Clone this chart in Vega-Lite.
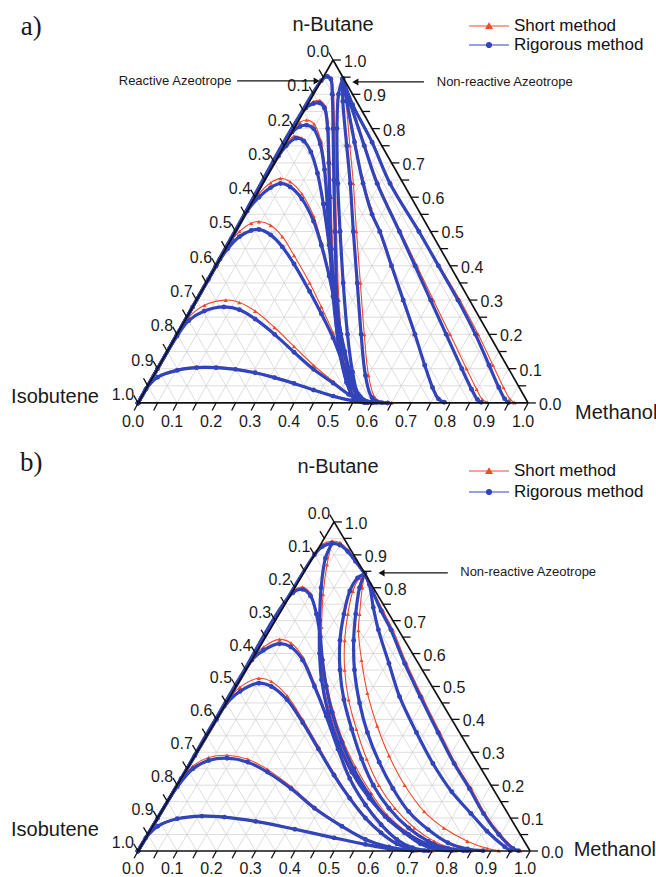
{
"$schema": "https://vega.github.io/schema/vega-lite/v6.json",
"padding": 0,
"spacing": 0,
"background": "white",
"config": {"view": {"stroke": null}, "font": "Liberation Sans"},
"resolve": {"scale": {"x": "independent", "y": "independent", "color": "independent"}, "legend": {"color": "independent"}},
"datasets": {
"grid": [
{"x":0.025,"y":0.05,"x2":0.975,"y2":0.05},{"x":0.05,"y":0.1,"x2":0.95,"y2":0.1},{"x":0.075,"y":0.15,"x2":0.925,"y2":0.15},{"x":0.1,"y":0.2,"x2":0.9,"y2":0.2},{"x":0.125,"y":0.25,"x2":0.875,"y2":0.25},{"x":0.15,"y":0.3,"x2":0.85,"y2":0.3},{"x":0.175,"y":0.35,"x2":0.825,"y2":0.35},{"x":0.2,"y":0.4,"x2":0.8,"y2":0.4},{"x":0.225,"y":0.45,"x2":0.775,"y2":0.45},{"x":0.25,"y":0.5,"x2":0.75,"y2":0.5},{"x":0.275,"y":0.55,"x2":0.725,"y2":0.55},{"x":0.3,"y":0.6,"x2":0.7,"y2":0.6},{"x":0.325,"y":0.65,"x2":0.675,"y2":0.65},{"x":0.35,"y":0.7,"x2":0.65,"y2":0.7},{"x":0.375,"y":0.75,"x2":0.625,"y2":0.75},{"x":0.4,"y":0.8,"x2":0.6,"y2":0.8},{"x":0.425,"y":0.85,"x2":0.575,"y2":0.85},{"x":0.45,"y":0.9,"x2":0.55,"y2":0.9},{"x":0.475,"y":0.95,"x2":0.525,"y2":0.95},
{"x":0.05,"y":0,"x2":0.525,"y2":0.95},{"x":0.1,"y":0,"x2":0.55,"y2":0.9},{"x":0.15,"y":0,"x2":0.575,"y2":0.85},{"x":0.2,"y":0,"x2":0.6,"y2":0.8},{"x":0.25,"y":0,"x2":0.625,"y2":0.75},{"x":0.3,"y":0,"x2":0.65,"y2":0.7},{"x":0.35,"y":0,"x2":0.675,"y2":0.65},{"x":0.4,"y":0,"x2":0.7,"y2":0.6},{"x":0.45,"y":0,"x2":0.725,"y2":0.55},{"x":0.5,"y":0,"x2":0.75,"y2":0.5},{"x":0.55,"y":0,"x2":0.775,"y2":0.45},{"x":0.6,"y":0,"x2":0.8,"y2":0.4},{"x":0.65,"y":0,"x2":0.825,"y2":0.35},{"x":0.7,"y":0,"x2":0.85,"y2":0.3},{"x":0.75,"y":0,"x2":0.875,"y2":0.25},{"x":0.8,"y":0,"x2":0.9,"y2":0.2},{"x":0.85,"y":0,"x2":0.925,"y2":0.15},{"x":0.9,"y":0,"x2":0.95,"y2":0.1},{"x":0.95,"y":0,"x2":0.975,"y2":0.05},
{"x":0.05,"y":0,"x2":0.025,"y2":0.05},{"x":0.1,"y":0,"x2":0.05,"y2":0.1},{"x":0.15,"y":0,"x2":0.075,"y2":0.15},{"x":0.2,"y":0,"x2":0.1,"y2":0.2},{"x":0.25,"y":0,"x2":0.125,"y2":0.25},{"x":0.3,"y":0,"x2":0.15,"y2":0.3},{"x":0.35,"y":0,"x2":0.175,"y2":0.35},{"x":0.4,"y":0,"x2":0.2,"y2":0.4},{"x":0.45,"y":0,"x2":0.225,"y2":0.45},{"x":0.5,"y":0,"x2":0.25,"y2":0.5},{"x":0.55,"y":0,"x2":0.275,"y2":0.55},{"x":0.6,"y":0,"x2":0.3,"y2":0.6},{"x":0.65,"y":0,"x2":0.325,"y2":0.65},{"x":0.7,"y":0,"x2":0.35,"y2":0.7},{"x":0.75,"y":0,"x2":0.375,"y2":0.75},{"x":0.8,"y":0,"x2":0.4,"y2":0.8},{"x":0.85,"y":0,"x2":0.425,"y2":0.85},{"x":0.9,"y":0,"x2":0.45,"y2":0.9},{"x":0.95,"y":0,"x2":0.475,"y2":0.95}
],
"frame": [
{"x":0,"y":0,"x2":1,"y2":0},{"x":0,"y":0,"x2":0.5,"y2":1},{"x":1,"y":0,"x2":0.5,"y2":1}
],
"ticks": [
{"x":0,"y":0,"x2":-0.01,"y2":-0.022},{"x":0.05,"y":0,"x2":0.04,"y2":-0.022},{"x":0.1,"y":0,"x2":0.09,"y2":-0.022},{"x":0.15,"y":0,"x2":0.14,"y2":-0.022},{"x":0.2,"y":0,"x2":0.19,"y2":-0.022},{"x":0.25,"y":0,"x2":0.24,"y2":-0.022},{"x":0.3,"y":0,"x2":0.29,"y2":-0.022},{"x":0.35,"y":0,"x2":0.34,"y2":-0.022},{"x":0.4,"y":0,"x2":0.39,"y2":-0.022},{"x":0.45,"y":0,"x2":0.44,"y2":-0.022},{"x":0.5,"y":0,"x2":0.49,"y2":-0.022},{"x":0.55,"y":0,"x2":0.54,"y2":-0.022},{"x":0.6,"y":0,"x2":0.59,"y2":-0.022},{"x":0.65,"y":0,"x2":0.64,"y2":-0.022},{"x":0.7,"y":0,"x2":0.69,"y2":-0.022},{"x":0.75,"y":0,"x2":0.74,"y2":-0.022},{"x":0.8,"y":0,"x2":0.79,"y2":-0.022},{"x":0.85,"y":0,"x2":0.84,"y2":-0.022},{"x":0.9,"y":0,"x2":0.89,"y2":-0.022},{"x":0.95,"y":0,"x2":0.94,"y2":-0.022},{"x":1,"y":0,"x2":0.99,"y2":-0.022},
{"x":0,"y":0,"x2":-0.011,"y2":0.022},{"x":0.025,"y":0.05,"x2":0.014,"y2":0.072},{"x":0.05,"y":0.1,"x2":0.039,"y2":0.122},{"x":0.075,"y":0.15,"x2":0.064,"y2":0.172},{"x":0.1,"y":0.2,"x2":0.089,"y2":0.222},{"x":0.125,"y":0.25,"x2":0.114,"y2":0.272},{"x":0.15,"y":0.3,"x2":0.139,"y2":0.322},{"x":0.175,"y":0.35,"x2":0.164,"y2":0.372},{"x":0.2,"y":0.4,"x2":0.189,"y2":0.422},{"x":0.225,"y":0.45,"x2":0.214,"y2":0.472},{"x":0.25,"y":0.5,"x2":0.239,"y2":0.522},{"x":0.275,"y":0.55,"x2":0.264,"y2":0.572},{"x":0.3,"y":0.6,"x2":0.289,"y2":0.622},{"x":0.325,"y":0.65,"x2":0.314,"y2":0.672},{"x":0.35,"y":0.7,"x2":0.339,"y2":0.722},{"x":0.375,"y":0.75,"x2":0.364,"y2":0.772},{"x":0.4,"y":0.8,"x2":0.389,"y2":0.822},{"x":0.425,"y":0.85,"x2":0.414,"y2":0.872},{"x":0.45,"y":0.9,"x2":0.439,"y2":0.922},{"x":0.475,"y":0.95,"x2":0.464,"y2":0.972},{"x":0.5,"y":1,"x2":0.489,"y2":1.022},
{"x":1,"y":0,"x2":1.02,"y2":0},{"x":0.975,"y":0.05,"x2":0.995,"y2":0.05},{"x":0.95,"y":0.1,"x2":0.97,"y2":0.1},{"x":0.925,"y":0.15,"x2":0.945,"y2":0.15},{"x":0.9,"y":0.2,"x2":0.92,"y2":0.2},{"x":0.875,"y":0.25,"x2":0.895,"y2":0.25},{"x":0.85,"y":0.3,"x2":0.87,"y2":0.3},{"x":0.825,"y":0.35,"x2":0.845,"y2":0.35},{"x":0.8,"y":0.4,"x2":0.82,"y2":0.4},{"x":0.775,"y":0.45,"x2":0.795,"y2":0.45},{"x":0.75,"y":0.5,"x2":0.77,"y2":0.5},{"x":0.725,"y":0.55,"x2":0.745,"y2":0.55},{"x":0.7,"y":0.6,"x2":0.72,"y2":0.6},{"x":0.675,"y":0.65,"x2":0.695,"y2":0.65},{"x":0.65,"y":0.7,"x2":0.67,"y2":0.7},{"x":0.625,"y":0.75,"x2":0.645,"y2":0.75},{"x":0.6,"y":0.8,"x2":0.62,"y2":0.8},{"x":0.575,"y":0.85,"x2":0.595,"y2":0.85},{"x":0.55,"y":0.9,"x2":0.57,"y2":0.9},{"x":0.525,"y":0.95,"x2":0.545,"y2":0.95},{"x":0.5,"y":1,"x2":0.52,"y2":1}
],
"labels": [
{"a":"b","t":"0.0","x":0,"y":0},{"a":"b","t":"0.1","x":0.1,"y":0},{"a":"b","t":"0.2","x":0.2,"y":0},{"a":"b","t":"0.3","x":0.3,"y":0},{"a":"b","t":"0.4","x":0.4,"y":0},{"a":"b","t":"0.5","x":0.5,"y":0},{"a":"b","t":"0.6","x":0.6,"y":0},{"a":"b","t":"0.7","x":0.7,"y":0},{"a":"b","t":"0.8","x":0.8,"y":0},{"a":"b","t":"0.9","x":0.9,"y":0},{"a":"b","t":"1.0","x":1,"y":0},
{"a":"l","t":"0.0","x":0.5,"y":1},{"a":"l","t":"0.1","x":0.45,"y":0.9},{"a":"l","t":"0.2","x":0.4,"y":0.8},{"a":"l","t":"0.3","x":0.35,"y":0.7},{"a":"l","t":"0.4","x":0.3,"y":0.6},{"a":"l","t":"0.5","x":0.25,"y":0.5},{"a":"l","t":"0.6","x":0.2,"y":0.4},{"a":"l","t":"0.7","x":0.15,"y":0.3},{"a":"l","t":"0.8","x":0.1,"y":0.2},{"a":"l","t":"0.9","x":0.05,"y":0.1},{"a":"l","t":"1.0","x":0,"y":0},
{"a":"r","t":"0.0","x":1,"y":0},{"a":"r","t":"0.1","x":0.95,"y":0.1},{"a":"r","t":"0.2","x":0.9,"y":0.2},{"a":"r","t":"0.3","x":0.85,"y":0.3},{"a":"r","t":"0.4","x":0.8,"y":0.4},{"a":"r","t":"0.5","x":0.75,"y":0.5},{"a":"r","t":"0.6","x":0.7,"y":0.6},{"a":"r","t":"0.7","x":0.65,"y":0.7},{"a":"r","t":"0.8","x":0.6,"y":0.8},{"a":"r","t":"0.9","x":0.55,"y":0.9},{"a":"r","t":"1.0","x":0.5,"y":1}
],
"textsA": [
{"k":"title","t":"n-Butane","x":0.5,"y":1.102},{"k":"title","t":"Isobutene","x":-0.213,"y":0.017},{"k":"title","t":"Methanol","x":1.226,"y":-0.029},{"k":"panel","t":"a)","x":-0.274,"y":1.096},{"k":"note","t":"Reactive Azeotrope","x":0.095,"y":0.939},{"k":"note","t":"Non-reactive Azeotrope","x":0.94,"y":0.936}
],
"arrowsA": [{"x":0.254,"y":0.939,"x2":0.455,"y2":0.939},{"x":0.733,"y":0.936,"x2":0.56,"y2":0.936}],
"headsA": [{"d":"r","x":0.458,"y":0.939},{"d":"l","x":0.557,"y":0.936}],
"textsB": [
{"k":"title","t":"n-Butane","x":0.51,"y":1.167},{"k":"title","t":"Isobutene","x":-0.212,"y":0.064},{"k":"title","t":"Methanol","x":1.216,"y":0.003},{"k":"panel","t":"b)","x":-0.272,"y":1.179},{"k":"note","t":"Non-reactive Azeotrope","x":0.995,"y":0.848}
],
"arrowsB": [{"x":0.79,"y":0.845,"x2":0.625,"y2":0.845}],
"headsB": [{"d":"l","x":0.621,"y":0.845}],
"curvesA": [
{"c":"A1","m":"S","x":0,"y":0},{"c":"A1","m":"S","x":0.02,"y":0.04},{"c":"A1","m":"S","x":0.05,"y":0.077},{"c":"A1","m":"S","x":0.1,"y":0.098},{"c":"A1","m":"S","x":0.15,"y":0.106},{"c":"A1","m":"S","x":0.2,"y":0.106},{"c":"A1","m":"S","x":0.25,"y":0.1},{"c":"A1","m":"S","x":0.3,"y":0.09},{"c":"A1","m":"S","x":0.35,"y":0.076},{"c":"A1","m":"S","x":0.4,"y":0.058},{"c":"A1","m":"S","x":0.45,"y":0.039},{"c":"A1","m":"S","x":0.5,"y":0.021},{"c":"A1","m":"S","x":0.55,"y":0.008},{"c":"A1","m":"S","x":0.6,"y":0.001},{"c":"A1","m":"S","x":0.65,"y":0},
{"c":"A2","m":"S","x":0,"y":0},{"c":"A2","m":"S","x":0.05,"y":0.1},{"c":"A2","m":"S","x":0.1,"y":0.2},{"c":"A2","m":"S","x":0.13,"y":0.25},{"c":"A2","m":"S","x":0.17,"y":0.285},{"c":"A2","m":"S","x":0.225,"y":0.3},{"c":"A2","m":"S","x":0.26,"y":0.293},{"c":"A2","m":"S","x":0.3,"y":0.268},{"c":"A2","m":"S","x":0.35,"y":0.22},{"c":"A2","m":"S","x":0.4,"y":0.165},{"c":"A2","m":"S","x":0.45,"y":0.11},{"c":"A2","m":"S","x":0.5,"y":0.063},{"c":"A2","m":"S","x":0.54,"y":0.028},{"c":"A2","m":"S","x":0.57,"y":0.009},{"c":"A2","m":"S","x":0.61,"y":0.001},
{"c":"A3","m":"S","x":0,"y":0},{"c":"A3","m":"S","x":0.1,"y":0.2},{"c":"A3","m":"S","x":0.2,"y":0.4},{"c":"A3","m":"S","x":0.23,"y":0.46},{"c":"A3","m":"S","x":0.26,"y":0.5},{"c":"A3","m":"S","x":0.29,"y":0.524},{"c":"A3","m":"S","x":0.31,"y":0.529},{"c":"A3","m":"S","x":0.34,"y":0.518},{"c":"A3","m":"S","x":0.37,"y":0.485},{"c":"A3","m":"S","x":0.4,"y":0.43},{"c":"A3","m":"S","x":0.44,"y":0.35},{"c":"A3","m":"S","x":0.47,"y":0.28},{"c":"A3","m":"S","x":0.5,"y":0.205},{"c":"A3","m":"S","x":0.53,"y":0.11},{"c":"A3","m":"S","x":0.55,"y":0.05},{"c":"A3","m":"S","x":0.57,"y":0.014},{"c":"A3","m":"S","x":0.6,"y":0.001},
{"c":"A4","m":"S","x":0,"y":0},{"c":"A4","m":"S","x":0.14,"y":0.28},{"c":"A4","m":"S","x":0.28,"y":0.56},{"c":"A4","m":"S","x":0.31,"y":0.61},{"c":"A4","m":"S","x":0.34,"y":0.642},{"c":"A4","m":"S","x":0.365,"y":0.655},{"c":"A4","m":"S","x":0.39,"y":0.645},{"c":"A4","m":"S","x":0.42,"y":0.61},{"c":"A4","m":"S","x":0.45,"y":0.545},{"c":"A4","m":"S","x":0.47,"y":0.47},{"c":"A4","m":"S","x":0.49,"y":0.38},{"c":"A4","m":"S","x":0.51,"y":0.265},{"c":"A4","m":"S","x":0.53,"y":0.155},{"c":"A4","m":"S","x":0.55,"y":0.068},{"c":"A4","m":"S","x":0.57,"y":0.02},{"c":"A4","m":"S","x":0.6,"y":0.002},
{"c":"A5","m":"S","x":0,"y":0},{"c":"A5","m":"S","x":0.18,"y":0.36},{"c":"A5","m":"S","x":0.36,"y":0.72},{"c":"A5","m":"S","x":0.38,"y":0.755},{"c":"A5","m":"S","x":0.4,"y":0.778},{"c":"A5","m":"S","x":0.42,"y":0.772},{"c":"A5","m":"S","x":0.44,"y":0.742},{"c":"A5","m":"S","x":0.46,"y":0.675},{"c":"A5","m":"S","x":0.475,"y":0.585},{"c":"A5","m":"S","x":0.49,"y":0.465},{"c":"A5","m":"S","x":0.505,"y":0.335},{"c":"A5","m":"S","x":0.52,"y":0.2},{"c":"A5","m":"S","x":0.54,"y":0.09},{"c":"A5","m":"S","x":0.56,"y":0.025},{"c":"A5","m":"S","x":0.59,"y":0.002},
{"c":"A6","m":"S","x":0,"y":0},{"c":"A6","m":"S","x":0.2,"y":0.4},{"c":"A6","m":"S","x":0.395,"y":0.79},{"c":"A6","m":"S","x":0.415,"y":0.818},{"c":"A6","m":"S","x":0.432,"y":0.825},{"c":"A6","m":"S","x":0.451,"y":0.814},{"c":"A6","m":"S","x":0.469,"y":0.765},{"c":"A6","m":"S","x":0.48,"y":0.685},{"c":"A6","m":"S","x":0.488,"y":0.58},{"c":"A6","m":"S","x":0.495,"y":0.45},{"c":"A6","m":"S","x":0.503,"y":0.31},{"c":"A6","m":"S","x":0.518,"y":0.17},{"c":"A6","m":"S","x":0.538,"y":0.07},{"c":"A6","m":"S","x":0.558,"y":0.015},{"c":"A6","m":"S","x":0.588,"y":0.001},
{"c":"A7","m":"S","x":0,"y":0},{"c":"A7","m":"S","x":0.21,"y":0.42},{"c":"A7","m":"S","x":0.43,"y":0.86},{"c":"A7","m":"S","x":0.45,"y":0.879},{"c":"A7","m":"S","x":0.466,"y":0.882},{"c":"A7","m":"S","x":0.48,"y":0.865},{"c":"A7","m":"S","x":0.489,"y":0.8},{"c":"A7","m":"S","x":0.492,"y":0.7},{"c":"A7","m":"S","x":0.495,"y":0.6},{"c":"A7","m":"S","x":0.499,"y":0.45},{"c":"A7","m":"S","x":0.507,"y":0.3},{"c":"A7","m":"S","x":0.519,"y":0.16},{"c":"A7","m":"S","x":0.539,"y":0.06},{"c":"A7","m":"S","x":0.559,"y":0.012},{"c":"A7","m":"S","x":0.585,"y":0.001},
{"c":"A8","m":"S","x":0,"y":0},{"c":"A8","m":"S","x":0.24,"y":0.48},{"c":"A8","m":"S","x":0.47,"y":0.94},{"c":"A8","m":"S","x":0.486,"y":0.955},{"c":"A8","m":"S","x":0.496,"y":0.947},{"c":"A8","m":"S","x":0.501,"y":0.9},{"c":"A8","m":"S","x":0.504,"y":0.8},{"c":"A8","m":"S","x":0.506,"y":0.65},{"c":"A8","m":"S","x":0.509,"y":0.5},{"c":"A8","m":"S","x":0.515,"y":0.3},{"c":"A8","m":"S","x":0.525,"y":0.15},{"c":"A8","m":"S","x":0.54,"y":0.06},{"c":"A8","m":"S","x":0.56,"y":0.012},{"c":"A8","m":"S","x":0.585,"y":0.001},
{"c":"R2","m":"S","x":0.525,"y":0.945},{"c":"R2","m":"S","x":0.533,"y":0.88},{"c":"R2","m":"S","x":0.543,"y":0.75},{"c":"R2","m":"S","x":0.552,"y":0.64},{"c":"R2","m":"S","x":0.56,"y":0.5},{"c":"R2","m":"S","x":0.57,"y":0.35},{"c":"R2","m":"S","x":0.58,"y":0.2},{"c":"R2","m":"S","x":0.591,"y":0.08},{"c":"R2","m":"S","x":0.608,"y":0.015},{"c":"R2","m":"S","x":0.633,"y":0.001},
{"c":"R3","m":"S","x":0.525,"y":0.945},{"c":"R3","m":"S","x":0.537,"y":0.88},{"c":"R3","m":"S","x":0.555,"y":0.77},{"c":"R3","m":"S","x":0.575,"y":0.66},{"c":"R3","m":"S","x":0.597,"y":0.57},{"c":"R3","m":"S","x":0.618,"y":0.5},{"c":"R3","m":"S","x":0.648,"y":0.4},{"c":"R3","m":"S","x":0.678,"y":0.3},{"c":"R3","m":"S","x":0.708,"y":0.2},{"c":"R3","m":"S","x":0.735,"y":0.11},{"c":"R3","m":"S","x":0.757,"y":0.045},{"c":"R3","m":"S","x":0.773,"y":0.012},{"c":"R3","m":"S","x":0.79,"y":0.002},
{"c":"R4","m":"S","x":0.525,"y":0.945},{"c":"R4","m":"S","x":0.547,"y":0.87},{"c":"R4","m":"S","x":0.582,"y":0.75},{"c":"R4","m":"S","x":0.616,"y":0.64},{"c":"R4","m":"S","x":0.673,"y":0.5},{"c":"R4","m":"S","x":0.715,"y":0.4},{"c":"R4","m":"S","x":0.757,"y":0.3},{"c":"R4","m":"S","x":0.8,"y":0.2},{"c":"R4","m":"S","x":0.842,"y":0.1},{"c":"R4","m":"S","x":0.868,"y":0.04},{"c":"R4","m":"S","x":0.883,"y":0.01},{"c":"R4","m":"S","x":0.895,"y":0.002},
{"c":"R5","m":"S","x":0.525,"y":0.945},{"c":"R5","m":"S","x":0.552,"y":0.87},{"c":"R5","m":"S","x":0.602,"y":0.76},{"c":"R5","m":"S","x":0.648,"y":0.64},{"c":"R5","m":"S","x":0.722,"y":0.5},{"c":"R5","m":"S","x":0.773,"y":0.4},{"c":"R5","m":"S","x":0.825,"y":0.3},{"c":"R5","m":"S","x":0.872,"y":0.2},{"c":"R5","m":"S","x":0.91,"y":0.11},{"c":"R5","m":"S","x":0.937,"y":0.045},{"c":"R5","m":"S","x":0.953,"y":0.012},{"c":"R5","m":"S","x":0.965,"y":0.001},
{"c":"A1","m":"R","x":0,"y":0},{"c":"A1","m":"R","x":0.02,"y":0.04},{"c":"A1","m":"R","x":0.05,"y":0.075},{"c":"A1","m":"R","x":0.1,"y":0.095},{"c":"A1","m":"R","x":0.15,"y":0.103},{"c":"A1","m":"R","x":0.2,"y":0.103},{"c":"A1","m":"R","x":0.25,"y":0.098},{"c":"A1","m":"R","x":0.3,"y":0.088},{"c":"A1","m":"R","x":0.35,"y":0.074},{"c":"A1","m":"R","x":0.4,"y":0.057},{"c":"A1","m":"R","x":0.45,"y":0.038},{"c":"A1","m":"R","x":0.5,"y":0.02},{"c":"A1","m":"R","x":0.55,"y":0.007},{"c":"A1","m":"R","x":0.6,"y":0.001},{"c":"A1","m":"R","x":0.64,"y":0},
{"c":"A2","m":"R","x":0,"y":0},{"c":"A2","m":"R","x":0.05,"y":0.1},{"c":"A2","m":"R","x":0.1,"y":0.195},{"c":"A2","m":"R","x":0.13,"y":0.24},{"c":"A2","m":"R","x":0.17,"y":0.268},{"c":"A2","m":"R","x":0.22,"y":0.28},{"c":"A2","m":"R","x":0.26,"y":0.272},{"c":"A2","m":"R","x":0.3,"y":0.245},{"c":"A2","m":"R","x":0.35,"y":0.2},{"c":"A2","m":"R","x":0.4,"y":0.148},{"c":"A2","m":"R","x":0.45,"y":0.098},{"c":"A2","m":"R","x":0.5,"y":0.058},{"c":"A2","m":"R","x":0.54,"y":0.025},{"c":"A2","m":"R","x":0.57,"y":0.008},{"c":"A2","m":"R","x":0.6,"y":0.001},
{"c":"A3","m":"R","x":0,"y":0},{"c":"A3","m":"R","x":0.1,"y":0.2},{"c":"A3","m":"R","x":0.2,"y":0.4},{"c":"A3","m":"R","x":0.23,"y":0.45},{"c":"A3","m":"R","x":0.26,"y":0.485},{"c":"A3","m":"R","x":0.29,"y":0.503},{"c":"A3","m":"R","x":0.31,"y":0.506},{"c":"A3","m":"R","x":0.34,"y":0.49},{"c":"A3","m":"R","x":0.37,"y":0.455},{"c":"A3","m":"R","x":0.4,"y":0.405},{"c":"A3","m":"R","x":0.44,"y":0.325},{"c":"A3","m":"R","x":0.47,"y":0.26},{"c":"A3","m":"R","x":0.5,"y":0.19},{"c":"A3","m":"R","x":0.53,"y":0.1},{"c":"A3","m":"R","x":0.55,"y":0.045},{"c":"A3","m":"R","x":0.57,"y":0.012},{"c":"A3","m":"R","x":0.6,"y":0.001},
{"c":"A4","m":"R","x":0,"y":0},{"c":"A4","m":"R","x":0.14,"y":0.28},{"c":"A4","m":"R","x":0.28,"y":0.56},{"c":"A4","m":"R","x":0.31,"y":0.6},{"c":"A4","m":"R","x":0.34,"y":0.628},{"c":"A4","m":"R","x":0.365,"y":0.64},{"c":"A4","m":"R","x":0.39,"y":0.63},{"c":"A4","m":"R","x":0.42,"y":0.595},{"c":"A4","m":"R","x":0.45,"y":0.53},{"c":"A4","m":"R","x":0.47,"y":0.46},{"c":"A4","m":"R","x":0.49,"y":0.37},{"c":"A4","m":"R","x":0.51,"y":0.26},{"c":"A4","m":"R","x":0.53,"y":0.15},{"c":"A4","m":"R","x":0.55,"y":0.065},{"c":"A4","m":"R","x":0.57,"y":0.018},{"c":"A4","m":"R","x":0.6,"y":0.002},
{"c":"A5","m":"R","x":0,"y":0},{"c":"A5","m":"R","x":0.18,"y":0.36},{"c":"A5","m":"R","x":0.36,"y":0.72},{"c":"A5","m":"R","x":0.38,"y":0.75},{"c":"A5","m":"R","x":0.405,"y":0.772},{"c":"A5","m":"R","x":0.425,"y":0.764},{"c":"A5","m":"R","x":0.443,"y":0.732},{"c":"A5","m":"R","x":0.46,"y":0.67},{"c":"A5","m":"R","x":0.475,"y":0.58},{"c":"A5","m":"R","x":0.49,"y":0.46},{"c":"A5","m":"R","x":0.505,"y":0.33},{"c":"A5","m":"R","x":0.52,"y":0.2},{"c":"A5","m":"R","x":0.54,"y":0.09},{"c":"A5","m":"R","x":0.56,"y":0.025},{"c":"A5","m":"R","x":0.59,"y":0.002},
{"c":"A6","m":"R","x":0,"y":0},{"c":"A6","m":"R","x":0.2,"y":0.4},{"c":"A6","m":"R","x":0.395,"y":0.79},{"c":"A6","m":"R","x":0.415,"y":0.806},{"c":"A6","m":"R","x":0.432,"y":0.81},{"c":"A6","m":"R","x":0.45,"y":0.8},{"c":"A6","m":"R","x":0.467,"y":0.755},{"c":"A6","m":"R","x":0.478,"y":0.68},{"c":"A6","m":"R","x":0.485,"y":0.58},{"c":"A6","m":"R","x":0.492,"y":0.45},{"c":"A6","m":"R","x":0.5,"y":0.31},{"c":"A6","m":"R","x":0.515,"y":0.17},{"c":"A6","m":"R","x":0.535,"y":0.07},{"c":"A6","m":"R","x":0.555,"y":0.015},{"c":"A6","m":"R","x":0.585,"y":0.001},
{"c":"A7","m":"R","x":0,"y":0},{"c":"A7","m":"R","x":0.21,"y":0.42},{"c":"A7","m":"R","x":0.43,"y":0.86},{"c":"A7","m":"R","x":0.45,"y":0.873},{"c":"A7","m":"R","x":0.465,"y":0.875},{"c":"A7","m":"R","x":0.478,"y":0.86},{"c":"A7","m":"R","x":0.486,"y":0.8},{"c":"A7","m":"R","x":0.489,"y":0.7},{"c":"A7","m":"R","x":0.491,"y":0.6},{"c":"A7","m":"R","x":0.495,"y":0.45},{"c":"A7","m":"R","x":0.503,"y":0.3},{"c":"A7","m":"R","x":0.515,"y":0.16},{"c":"A7","m":"R","x":0.535,"y":0.06},{"c":"A7","m":"R","x":0.555,"y":0.012},{"c":"A7","m":"R","x":0.58,"y":0.001},
{"c":"A8","m":"R","x":0,"y":0},{"c":"A8","m":"R","x":0.24,"y":0.48},{"c":"A8","m":"R","x":0.47,"y":0.94},{"c":"A8","m":"R","x":0.485,"y":0.952},{"c":"A8","m":"R","x":0.494,"y":0.945},{"c":"A8","m":"R","x":0.498,"y":0.9},{"c":"A8","m":"R","x":0.5,"y":0.8},{"c":"A8","m":"R","x":0.502,"y":0.65},{"c":"A8","m":"R","x":0.505,"y":0.5},{"c":"A8","m":"R","x":0.51,"y":0.3},{"c":"A8","m":"R","x":0.52,"y":0.15},{"c":"A8","m":"R","x":0.535,"y":0.06},{"c":"A8","m":"R","x":0.555,"y":0.012},{"c":"A8","m":"R","x":0.58,"y":0.001},
{"c":"R1","m":"R","x":0.525,"y":0.945},{"c":"R1","m":"R","x":0.514,"y":0.9},{"c":"R1","m":"R","x":0.51,"y":0.8},{"c":"R1","m":"R","x":0.512,"y":0.64},{"c":"R1","m":"R","x":0.518,"y":0.5},{"c":"R1","m":"R","x":0.526,"y":0.35},{"c":"R1","m":"R","x":0.537,"y":0.2},{"c":"R1","m":"R","x":0.55,"y":0.09},{"c":"R1","m":"R","x":0.565,"y":0.025},{"c":"R1","m":"R","x":0.59,"y":0.002},
{"c":"R2","m":"R","x":0.525,"y":0.945},{"c":"R2","m":"R","x":0.525,"y":0.88},{"c":"R2","m":"R","x":0.535,"y":0.75},{"c":"R2","m":"R","x":0.544,"y":0.64},{"c":"R2","m":"R","x":0.552,"y":0.5},{"c":"R2","m":"R","x":0.562,"y":0.35},{"c":"R2","m":"R","x":0.572,"y":0.2},{"c":"R2","m":"R","x":0.583,"y":0.08},{"c":"R2","m":"R","x":0.6,"y":0.015},{"c":"R2","m":"R","x":0.625,"y":0.001},
{"c":"R3","m":"R","x":0.525,"y":0.945},{"c":"R3","m":"R","x":0.535,"y":0.88},{"c":"R3","m":"R","x":0.555,"y":0.76},{"c":"R3","m":"R","x":0.577,"y":0.64},{"c":"R3","m":"R","x":0.6,"y":0.55},{"c":"R3","m":"R","x":0.62,"y":0.5},{"c":"R3","m":"R","x":0.65,"y":0.4},{"c":"R3","m":"R","x":0.68,"y":0.3},{"c":"R3","m":"R","x":0.71,"y":0.2},{"c":"R3","m":"R","x":0.735,"y":0.11},{"c":"R3","m":"R","x":0.755,"y":0.045},{"c":"R3","m":"R","x":0.77,"y":0.012},{"c":"R3","m":"R","x":0.785,"y":0.002},
{"c":"R4","m":"R","x":0.525,"y":0.945},{"c":"R4","m":"R","x":0.545,"y":0.87},{"c":"R4","m":"R","x":0.58,"y":0.75},{"c":"R4","m":"R","x":0.613,"y":0.64},{"c":"R4","m":"R","x":0.67,"y":0.5},{"c":"R4","m":"R","x":0.71,"y":0.4},{"c":"R4","m":"R","x":0.75,"y":0.3},{"c":"R4","m":"R","x":0.79,"y":0.2},{"c":"R4","m":"R","x":0.83,"y":0.1},{"c":"R4","m":"R","x":0.855,"y":0.04},{"c":"R4","m":"R","x":0.87,"y":0.01},{"c":"R4","m":"R","x":0.88,"y":0.002},
{"c":"R5","m":"R","x":0.525,"y":0.945},{"c":"R5","m":"R","x":0.55,"y":0.87},{"c":"R5","m":"R","x":0.6,"y":0.76},{"c":"R5","m":"R","x":0.646,"y":0.64},{"c":"R5","m":"R","x":0.72,"y":0.5},{"c":"R5","m":"R","x":0.77,"y":0.4},{"c":"R5","m":"R","x":0.82,"y":0.3},{"c":"R5","m":"R","x":0.865,"y":0.2},{"c":"R5","m":"R","x":0.9,"y":0.11},{"c":"R5","m":"R","x":0.925,"y":0.045},{"c":"R5","m":"R","x":0.94,"y":0.012},{"c":"R5","m":"R","x":0.95,"y":0.001}
],
"curvesB": [
{"c":"B1","m":"S","x":0,"y":0},{"c":"B1","m":"S","x":0.02,"y":0.041},{"c":"B1","m":"S","x":0.05,"y":0.077},{"c":"B1","m":"S","x":0.1,"y":0.1},{"c":"B1","m":"S","x":0.163,"y":0.108},{"c":"B1","m":"S","x":0.22,"y":0.105},{"c":"B1","m":"S","x":0.3,"y":0.092},{"c":"B1","m":"S","x":0.4,"y":0.068},{"c":"B1","m":"S","x":0.5,"y":0.042},{"c":"B1","m":"S","x":0.58,"y":0.021},{"c":"B1","m":"S","x":0.64,"y":0.008},{"c":"B1","m":"S","x":0.71,"y":0.001},
{"c":"B2","m":"S","x":0,"y":0},{"c":"B2","m":"S","x":0.05,"y":0.1},{"c":"B2","m":"S","x":0.1,"y":0.2},{"c":"B2","m":"S","x":0.14,"y":0.258},{"c":"B2","m":"S","x":0.18,"y":0.284},{"c":"B2","m":"S","x":0.227,"y":0.291},{"c":"B2","m":"S","x":0.28,"y":0.279},{"c":"B2","m":"S","x":0.33,"y":0.248},{"c":"B2","m":"S","x":0.39,"y":0.196},{"c":"B2","m":"S","x":0.45,"y":0.134},{"c":"B2","m":"S","x":0.52,"y":0.078},{"c":"B2","m":"S","x":0.58,"y":0.037},{"c":"B2","m":"S","x":0.64,"y":0.013},{"c":"B2","m":"S","x":0.7,"y":0.002},
{"c":"B3","m":"S","x":0,"y":0},{"c":"B3","m":"S","x":0.11,"y":0.22},{"c":"B3","m":"S","x":0.22,"y":0.445},{"c":"B3","m":"S","x":0.26,"y":0.498},{"c":"B3","m":"S","x":0.308,"y":0.525},{"c":"B3","m":"S","x":0.34,"y":0.515},{"c":"B3","m":"S","x":0.38,"y":0.472},{"c":"B3","m":"S","x":0.42,"y":0.4},{"c":"B3","m":"S","x":0.46,"y":0.318},{"c":"B3","m":"S","x":0.5,"y":0.236},{"c":"B3","m":"S","x":0.54,"y":0.165},{"c":"B3","m":"S","x":0.58,"y":0.104},{"c":"B3","m":"S","x":0.62,"y":0.058},{"c":"B3","m":"S","x":0.66,"y":0.024},{"c":"B3","m":"S","x":0.7,"y":0.006},{"c":"B3","m":"S","x":0.74,"y":0.001},
{"c":"B4","m":"S","x":0,"y":0},{"c":"B4","m":"S","x":0.145,"y":0.29},{"c":"B4","m":"S","x":0.29,"y":0.585},{"c":"B4","m":"S","x":0.32,"y":0.62},{"c":"B4","m":"S","x":0.361,"y":0.643},{"c":"B4","m":"S","x":0.39,"y":0.632},{"c":"B4","m":"S","x":0.42,"y":0.59},{"c":"B4","m":"S","x":0.45,"y":0.51},{"c":"B4","m":"S","x":0.48,"y":0.418},{"c":"B4","m":"S","x":0.51,"y":0.318},{"c":"B4","m":"S","x":0.54,"y":0.226},{"c":"B4","m":"S","x":0.58,"y":0.145},{"c":"B4","m":"S","x":0.62,"y":0.084},{"c":"B4","m":"S","x":0.66,"y":0.037},{"c":"B4","m":"S","x":0.7,"y":0.011},{"c":"B4","m":"S","x":0.75,"y":0.001},
{"c":"B5","m":"S","x":0,"y":0},{"c":"B5","m":"S","x":0.2,"y":0.4},{"c":"B5","m":"S","x":0.395,"y":0.79},{"c":"B5","m":"S","x":0.42,"y":0.802},{"c":"B5","m":"S","x":0.44,"y":0.782},{"c":"B5","m":"S","x":0.455,"y":0.727},{"c":"B5","m":"S","x":0.465,"y":0.656},{"c":"B5","m":"S","x":0.472,"y":0.585},{"c":"B5","m":"S","x":0.482,"y":0.505},{"c":"B5","m":"S","x":0.498,"y":0.425},{"c":"B5","m":"S","x":0.523,"y":0.335},{"c":"B5","m":"S","x":0.555,"y":0.255},{"c":"B5","m":"S","x":0.595,"y":0.175},{"c":"B5","m":"S","x":0.635,"y":0.11},{"c":"B5","m":"S","x":0.685,"y":0.058},{"c":"B5","m":"S","x":0.725,"y":0.024},{"c":"B5","m":"S","x":0.765,"y":0.006},{"c":"B5","m":"S","x":0.81,"y":0.001},
{"c":"B6","m":"S","x":0,"y":0},{"c":"B6","m":"S","x":0.225,"y":0.45},{"c":"B6","m":"S","x":0.45,"y":0.905},{"c":"B6","m":"S","x":0.47,"y":0.932},{"c":"B6","m":"S","x":0.495,"y":0.942},{"c":"B6","m":"S","x":0.515,"y":0.937},{"c":"B6","m":"S","x":0.535,"y":0.916},{"c":"B6","m":"S","x":0.555,"y":0.885},{"c":"B6","m":"S","x":0.578,"y":0.843},
{"c":"B7","m":"S","x":0.495,"y":0.94},{"c":"B7","m":"S","x":0.482,"y":0.87},{"c":"B7","m":"S","x":0.472,"y":0.78},{"c":"B7","m":"S","x":0.468,"y":0.68},{"c":"B7","m":"S","x":0.468,"y":0.58},{"c":"B7","m":"S","x":0.474,"y":0.5},{"c":"B7","m":"S","x":0.49,"y":0.42},{"c":"B7","m":"S","x":0.515,"y":0.33},{"c":"B7","m":"S","x":0.55,"y":0.24},{"c":"B7","m":"S","x":0.595,"y":0.16},{"c":"B7","m":"S","x":0.645,"y":0.095},{"c":"B7","m":"S","x":0.695,"y":0.05},{"c":"B7","m":"S","x":0.745,"y":0.02},{"c":"B7","m":"S","x":0.795,"y":0.005},{"c":"B7","m":"S","x":0.84,"y":0.001},
{"c":"Rb1","m":"S","x":0.578,"y":0.843},{"c":"Rb1","m":"S","x":0.565,"y":0.83},{"c":"Rb1","m":"S","x":0.548,"y":0.79},{"c":"Rb1","m":"S","x":0.535,"y":0.72},{"c":"Rb1","m":"S","x":0.527,"y":0.64},{"c":"Rb1","m":"S","x":0.527,"y":0.55},{"c":"Rb1","m":"S","x":0.537,"y":0.46},{"c":"Rb1","m":"S","x":0.557,"y":0.37},{"c":"Rb1","m":"S","x":0.583,"y":0.28},{"c":"Rb1","m":"S","x":0.614,"y":0.2},{"c":"Rb1","m":"S","x":0.655,"y":0.13},{"c":"Rb1","m":"S","x":0.705,"y":0.07},{"c":"Rb1","m":"S","x":0.755,"y":0.03},{"c":"Rb1","m":"S","x":0.805,"y":0.008},{"c":"Rb1","m":"S","x":0.85,"y":0.001},
{"c":"RbS","m":"S","x":0.578,"y":0.843},{"c":"RbS","m":"S","x":0.572,"y":0.8},{"c":"RbS","m":"S","x":0.565,"y":0.72},{"c":"RbS","m":"S","x":0.562,"y":0.67},{"c":"RbS","m":"S","x":0.57,"y":0.58},{"c":"RbS","m":"S","x":0.585,"y":0.48},{"c":"RbS","m":"S","x":0.61,"y":0.38},{"c":"RbS","m":"S","x":0.64,"y":0.29},{"c":"RbS","m":"S","x":0.68,"y":0.2},{"c":"RbS","m":"S","x":0.73,"y":0.12},{"c":"RbS","m":"S","x":0.78,"y":0.07},{"c":"RbS","m":"S","x":0.84,"y":0.03},{"c":"RbS","m":"S","x":0.89,"y":0.008},{"c":"RbS","m":"S","x":0.92,"y":0.001},
{"c":"Rb4","m":"S","x":0.578,"y":0.843},{"c":"Rb4","m":"S","x":0.6,"y":0.79},{"c":"Rb4","m":"S","x":0.625,"y":0.73},{"c":"Rb4","m":"S","x":0.65,"y":0.672},{"c":"Rb4","m":"S","x":0.685,"y":0.57},{"c":"Rb4","m":"S","x":0.725,"y":0.469},{"c":"Rb4","m":"S","x":0.77,"y":0.36},{"c":"Rb4","m":"S","x":0.81,"y":0.266},{"c":"Rb4","m":"S","x":0.85,"y":0.19},{"c":"Rb4","m":"S","x":0.885,"y":0.114},{"c":"Rb4","m":"S","x":0.925,"y":0.05},{"c":"Rb4","m":"S","x":0.96,"y":0.008},{"c":"Rb4","m":"S","x":0.975,"y":0.001},
{"c":"B1","m":"R","x":0,"y":0},{"c":"B1","m":"R","x":0.02,"y":0.04},{"c":"B1","m":"R","x":0.05,"y":0.075},{"c":"B1","m":"R","x":0.1,"y":0.098},{"c":"B1","m":"R","x":0.163,"y":0.106},{"c":"B1","m":"R","x":0.22,"y":0.103},{"c":"B1","m":"R","x":0.3,"y":0.09},{"c":"B1","m":"R","x":0.4,"y":0.066},{"c":"B1","m":"R","x":0.5,"y":0.04},{"c":"B1","m":"R","x":0.58,"y":0.02},{"c":"B1","m":"R","x":0.64,"y":0.007},{"c":"B1","m":"R","x":0.7,"y":0.001},
{"c":"B2","m":"R","x":0,"y":0},{"c":"B2","m":"R","x":0.05,"y":0.1},{"c":"B2","m":"R","x":0.1,"y":0.195},{"c":"B2","m":"R","x":0.14,"y":0.25},{"c":"B2","m":"R","x":0.18,"y":0.275},{"c":"B2","m":"R","x":0.227,"y":0.282},{"c":"B2","m":"R","x":0.28,"y":0.27},{"c":"B2","m":"R","x":0.33,"y":0.24},{"c":"B2","m":"R","x":0.39,"y":0.19},{"c":"B2","m":"R","x":0.45,"y":0.13},{"c":"B2","m":"R","x":0.52,"y":0.075},{"c":"B2","m":"R","x":0.58,"y":0.035},{"c":"B2","m":"R","x":0.64,"y":0.012},{"c":"B2","m":"R","x":0.7,"y":0.002},
{"c":"B3","m":"R","x":0,"y":0},{"c":"B3","m":"R","x":0.11,"y":0.22},{"c":"B3","m":"R","x":0.22,"y":0.44},{"c":"B3","m":"R","x":0.26,"y":0.485},{"c":"B3","m":"R","x":0.308,"y":0.51},{"c":"B3","m":"R","x":0.34,"y":0.5},{"c":"B3","m":"R","x":0.38,"y":0.46},{"c":"B3","m":"R","x":0.42,"y":0.39},{"c":"B3","m":"R","x":0.46,"y":0.31},{"c":"B3","m":"R","x":0.5,"y":0.23},{"c":"B3","m":"R","x":0.54,"y":0.16},{"c":"B3","m":"R","x":0.58,"y":0.1},{"c":"B3","m":"R","x":0.62,"y":0.055},{"c":"B3","m":"R","x":0.66,"y":0.022},{"c":"B3","m":"R","x":0.7,"y":0.005},{"c":"B3","m":"R","x":0.73,"y":0.001},
{"c":"B4","m":"R","x":0,"y":0},{"c":"B4","m":"R","x":0.145,"y":0.29},{"c":"B4","m":"R","x":0.29,"y":0.58},{"c":"B4","m":"R","x":0.32,"y":0.61},{"c":"B4","m":"R","x":0.361,"y":0.63},{"c":"B4","m":"R","x":0.39,"y":0.62},{"c":"B4","m":"R","x":0.42,"y":0.58},{"c":"B4","m":"R","x":0.45,"y":0.5},{"c":"B4","m":"R","x":0.48,"y":0.41},{"c":"B4","m":"R","x":0.51,"y":0.31},{"c":"B4","m":"R","x":0.54,"y":0.22},{"c":"B4","m":"R","x":0.58,"y":0.14},{"c":"B4","m":"R","x":0.62,"y":0.08},{"c":"B4","m":"R","x":0.66,"y":0.035},{"c":"B4","m":"R","x":0.7,"y":0.01},{"c":"B4","m":"R","x":0.74,"y":0.001},
{"c":"B5","m":"R","x":0,"y":0},{"c":"B5","m":"R","x":0.2,"y":0.4},{"c":"B5","m":"R","x":0.395,"y":0.785},{"c":"B5","m":"R","x":0.42,"y":0.795},{"c":"B5","m":"R","x":0.44,"y":0.775},{"c":"B5","m":"R","x":0.455,"y":0.72},{"c":"B5","m":"R","x":0.465,"y":0.65},{"c":"B5","m":"R","x":0.47,"y":0.58},{"c":"B5","m":"R","x":0.48,"y":0.5},{"c":"B5","m":"R","x":0.495,"y":0.42},{"c":"B5","m":"R","x":0.52,"y":0.33},{"c":"B5","m":"R","x":0.55,"y":0.25},{"c":"B5","m":"R","x":0.59,"y":0.17},{"c":"B5","m":"R","x":0.63,"y":0.105},{"c":"B5","m":"R","x":0.68,"y":0.055},{"c":"B5","m":"R","x":0.72,"y":0.022},{"c":"B5","m":"R","x":0.76,"y":0.005},{"c":"B5","m":"R","x":0.8,"y":0.001},
{"c":"B6","m":"R","x":0,"y":0},{"c":"B6","m":"R","x":0.225,"y":0.45},{"c":"B6","m":"R","x":0.45,"y":0.9},{"c":"B6","m":"R","x":0.47,"y":0.925},{"c":"B6","m":"R","x":0.495,"y":0.935},{"c":"B6","m":"R","x":0.515,"y":0.93},{"c":"B6","m":"R","x":0.535,"y":0.91},{"c":"B6","m":"R","x":0.555,"y":0.88},{"c":"B6","m":"R","x":0.578,"y":0.843},
{"c":"B7","m":"R","x":0.495,"y":0.935},{"c":"B7","m":"R","x":0.478,"y":0.89},{"c":"B7","m":"R","x":0.467,"y":0.8},{"c":"B7","m":"R","x":0.463,"y":0.7},{"c":"B7","m":"R","x":0.463,"y":0.6},{"c":"B7","m":"R","x":0.468,"y":0.52},{"c":"B7","m":"R","x":0.485,"y":0.42},{"c":"B7","m":"R","x":0.51,"y":0.33},{"c":"B7","m":"R","x":0.545,"y":0.24},{"c":"B7","m":"R","x":0.59,"y":0.16},{"c":"B7","m":"R","x":0.64,"y":0.095},{"c":"B7","m":"R","x":0.69,"y":0.05},{"c":"B7","m":"R","x":0.74,"y":0.02},{"c":"B7","m":"R","x":0.79,"y":0.005},{"c":"B7","m":"R","x":0.83,"y":0.001},
{"c":"Rb1","m":"R","x":0.578,"y":0.843},{"c":"Rb1","m":"R","x":0.56,"y":0.83},{"c":"Rb1","m":"R","x":0.54,"y":0.79},{"c":"Rb1","m":"R","x":0.525,"y":0.72},{"c":"Rb1","m":"R","x":0.515,"y":0.64},{"c":"Rb1","m":"R","x":0.515,"y":0.55},{"c":"Rb1","m":"R","x":0.525,"y":0.46},{"c":"Rb1","m":"R","x":0.545,"y":0.37},{"c":"Rb1","m":"R","x":0.57,"y":0.28},{"c":"Rb1","m":"R","x":0.6,"y":0.2},{"c":"Rb1","m":"R","x":0.64,"y":0.13},{"c":"Rb1","m":"R","x":0.69,"y":0.07},{"c":"Rb1","m":"R","x":0.74,"y":0.03},{"c":"Rb1","m":"R","x":0.79,"y":0.008},{"c":"Rb1","m":"R","x":0.84,"y":0.001},
{"c":"Rb2","m":"R","x":0.578,"y":0.843},{"c":"Rb2","m":"R","x":0.565,"y":0.8},{"c":"Rb2","m":"R","x":0.555,"y":0.72},{"c":"Rb2","m":"R","x":0.55,"y":0.64},{"c":"Rb2","m":"R","x":0.552,"y":0.55},{"c":"Rb2","m":"R","x":0.565,"y":0.45},{"c":"Rb2","m":"R","x":0.585,"y":0.36},{"c":"Rb2","m":"R","x":0.615,"y":0.27},{"c":"Rb2","m":"R","x":0.65,"y":0.19},{"c":"Rb2","m":"R","x":0.69,"y":0.12},{"c":"Rb2","m":"R","x":0.74,"y":0.065},{"c":"Rb2","m":"R","x":0.79,"y":0.025},{"c":"Rb2","m":"R","x":0.84,"y":0.006},{"c":"Rb2","m":"R","x":0.88,"y":0.001},
{"c":"Rb3","m":"R","x":0.578,"y":0.843},{"c":"Rb3","m":"R","x":0.59,"y":0.81},{"c":"Rb3","m":"R","x":0.6,"y":0.74},{"c":"Rb3","m":"R","x":0.613,"y":0.672},{"c":"Rb3","m":"R","x":0.64,"y":0.57},{"c":"Rb3","m":"R","x":0.667,"y":0.469},{"c":"Rb3","m":"R","x":0.71,"y":0.36},{"c":"Rb3","m":"R","x":0.752,"y":0.266},{"c":"Rb3","m":"R","x":0.8,"y":0.18},{"c":"Rb3","m":"R","x":0.849,"y":0.114},{"c":"Rb3","m":"R","x":0.89,"y":0.06},{"c":"Rb3","m":"R","x":0.935,"y":0.013},{"c":"Rb3","m":"R","x":0.95,"y":0.001},
{"c":"Rb4","m":"R","x":0.578,"y":0.843},{"c":"Rb4","m":"R","x":0.598,"y":0.79},{"c":"Rb4","m":"R","x":0.62,"y":0.73},{"c":"Rb4","m":"R","x":0.645,"y":0.672},{"c":"Rb4","m":"R","x":0.68,"y":0.57},{"c":"Rb4","m":"R","x":0.72,"y":0.469},{"c":"Rb4","m":"R","x":0.765,"y":0.36},{"c":"Rb4","m":"R","x":0.806,"y":0.266},{"c":"Rb4","m":"R","x":0.845,"y":0.19},{"c":"Rb4","m":"R","x":0.881,"y":0.114},{"c":"Rb4","m":"R","x":0.92,"y":0.05},{"c":"Rb4","m":"R","x":0.956,"y":0.008},{"c":"Rb4","m":"R","x":0.97,"y":0.001}
]
},
"vconcat": [
{
"width": 656, "height": 440,
"encoding": {
"x": {"field": "x", "type": "quantitative", "axis": null, "scale": {"domain": [-0.354, 1.328], "nice": false, "zero": false}},
"y": {"field": "y", "type": "quantitative", "axis": null, "scale": {"domain": [-0.108, 1.175], "nice": false, "zero": false}}
},
"layer": [
{"data": {"name": "grid"}, "mark": {"type": "rule", "color": "#d8d3d3", "strokeWidth": 0.8}, "encoding": {"x2": {"field": "x2"}, "y2": {"field": "y2"}}},
{"data": {"name": "curvesA"}, "transform": [{"filter": "datum.m === 'S'"}], "mark": {"type": "line", "strokeWidth": 1.1, "interpolate": "catmull-rom"},
 "encoding": {"color": {"field": "m", "type": "nominal", "scale": {"domain": ["S", "R"], "range": ["#ee4b2b", "#3244bb"]},
   "legend": {"title": null, "orient": "none", "legendX": 478, "legendY": 15, "padding": 0, "symbolSize": 400, "labelFontSize": 17, "labelFont": "Liberation Sans", "labelColor": "#111111", "labelOffset": 14, "rowPadding": 0,
     "labelExpr": "datum.value === 'S' ? 'Short method' : 'Rigorous method'",
     "encode": {"symbols": {"update": {"shape": {"signal": "datum.value === 'S' ? 'M-2,0L2,0M-0.3,0.25L0,-0.25L0.3,0.25Z' : 'M-2,0L2,0M0.25,0A0.25,0.25,0,1,1,-0.25,0A0.25,0.25,0,1,1,0.25,0Z'"}, "fill": {"signal": "datum.value === 'S' ? '#ee4b2b' : '#3244bb'"}, "stroke": {"signal": "datum.value === 'S' ? '#ee4b2b' : '#3244bb'"}, "strokeWidth": {"value": 1.2}, "opacity": {"value": 1}}}}}},
  "detail": {"field": "c"}, "order": {"value": null}}},
{"data": {"name": "curvesA"}, "transform": [{"filter": "datum.m === 'S'"}], "mark": {"type": "point", "shape": "triangle-up", "filled": true, "size": 18, "opacity": 1}, "encoding": {"color": {"field": "m", "type": "nominal", "legend": null}}},
{"data": {"name": "curvesA"}, "transform": [{"filter": "datum.m === 'R'"}], "mark": {"type": "line", "strokeWidth": 3.2, "interpolate": "catmull-rom"}, "encoding": {"color": {"field": "m", "type": "nominal", "legend": null}, "detail": {"field": "c"}, "order": {"value": null}}},
{"data": {"name": "curvesA"}, "transform": [{"filter": "datum.m === 'R'"}], "mark": {"type": "point", "shape": "circle", "filled": true, "size": 24, "opacity": 1}, "encoding": {"color": {"field": "m", "type": "nominal", "legend": null}}},
{"data": {"name": "frame"}, "mark": {"type": "rule", "color": "#111111", "strokeWidth": 1.7}, "encoding": {"x2": {"field": "x2"}, "y2": {"field": "y2"}}},
{"data": {"name": "ticks"}, "mark": {"type": "rule", "color": "#111111", "strokeWidth": 1.3}, "encoding": {"x2": {"field": "x2"}, "y2": {"field": "y2"}}},
{"data": {"name": "labels"}, "transform": [{"filter": "datum.a === 'b'"}], "mark": {"type": "text", "fontSize": 16, "color": "#1a1a1a", "align": "center", "baseline": "middle", "dx": -5, "dy": 19}, "encoding": {"text": {"field": "t"}}},
{"data": {"name": "labels"}, "transform": [{"filter": "datum.a === 'l'"}], "mark": {"type": "text", "fontSize": 16, "color": "#1a1a1a", "align": "right", "baseline": "middle", "dx": -4, "dy": -8}, "encoding": {"text": {"field": "t"}}},
{"data": {"name": "labels"}, "transform": [{"filter": "datum.a === 'r'"}], "mark": {"type": "text", "fontSize": 16, "color": "#1a1a1a", "align": "left", "baseline": "middle", "dx": 11, "dy": 2}, "encoding": {"text": {"field": "t"}}},
{"data": {"name": "textsA"}, "transform": [{"filter": "datum.k === 'title'"}], "mark": {"type": "text", "fontSize": 20, "color": "#1a1a1a", "align": "center", "baseline": "middle", "clip": true}, "encoding": {"text": {"field": "t"}}},
{"data": {"name": "textsA"}, "transform": [{"filter": "datum.k === 'panel'"}], "mark": {"type": "text", "font": "Liberation Serif", "fontSize": 27, "color": "#1a1a1a", "align": "center", "baseline": "middle"}, "encoding": {"text": {"field": "t"}}},
{"data": {"name": "textsA"}, "transform": [{"filter": "datum.k === 'note'"}], "mark": {"type": "text", "fontSize": 13, "color": "#1a1a1a", "align": "center", "baseline": "middle"}, "encoding": {"text": {"field": "t"}}},
{"data": {"name": "arrowsA"}, "mark": {"type": "rule", "color": "#111111", "strokeWidth": 1.3}, "encoding": {"x2": {"field": "x2"}, "y2": {"field": "y2"}}},
{"data": {"name": "headsA"}, "transform": [{"filter": "datum.d === 'r'"}], "mark": {"type": "point", "shape": "triangle-right", "filled": true, "size": 50, "color": "#111111", "opacity": 1}},
{"data": {"name": "headsA"}, "transform": [{"filter": "datum.d === 'l'"}], "mark": {"type": "point", "shape": "triangle-left", "filled": true, "size": 50, "color": "#111111", "opacity": 1}}
]
},
{
"width": 656, "height": 437,
"encoding": {
"x": {"field": "x", "type": "quantitative", "axis": null, "scale": {"domain": [-0.352, 1.321], "nice": false, "zero": false}},
"y": {"field": "y", "type": "quantitative", "axis": null, "scale": {"domain": [-0.079, 1.249], "nice": false, "zero": false}}
},
"layer": [
{"data": {"name": "grid"}, "mark": {"type": "rule", "color": "#d8d3d3", "strokeWidth": 0.8}, "encoding": {"x2": {"field": "x2"}, "y2": {"field": "y2"}}},
{"data": {"name": "curvesB"}, "transform": [{"filter": "datum.m === 'S'"}], "mark": {"type": "line", "strokeWidth": 1.1, "interpolate": "catmull-rom"},
 "encoding": {"color": {"field": "m", "type": "nominal", "scale": {"domain": ["S", "R"], "range": ["#ee4b2b", "#3244bb"]},
   "legend": {"title": null, "orient": "none", "legendX": 478, "legendY": 20, "padding": 0, "symbolSize": 400, "labelFontSize": 17, "labelFont": "Liberation Sans", "labelColor": "#111111", "labelOffset": 14, "rowPadding": 2,
     "labelExpr": "datum.value === 'S' ? 'Short method' : 'Rigorous method'",
     "encode": {"symbols": {"update": {"shape": {"signal": "datum.value === 'S' ? 'M-2,0L2,0M-0.3,0.25L0,-0.25L0.3,0.25Z' : 'M-2,0L2,0M0.25,0A0.25,0.25,0,1,1,-0.25,0A0.25,0.25,0,1,1,0.25,0Z'"}, "fill": {"signal": "datum.value === 'S' ? '#ee4b2b' : '#3244bb'"}, "stroke": {"signal": "datum.value === 'S' ? '#ee4b2b' : '#3244bb'"}, "strokeWidth": {"value": 1.2}, "opacity": {"value": 1}}}}}},
  "detail": {"field": "c"}, "order": {"value": null}}},
{"data": {"name": "curvesB"}, "transform": [{"filter": "datum.m === 'S'"}], "mark": {"type": "point", "shape": "triangle-up", "filled": true, "size": 18, "opacity": 1}, "encoding": {"color": {"field": "m", "type": "nominal", "legend": null}}},
{"data": {"name": "curvesB"}, "transform": [{"filter": "datum.m === 'R'"}], "mark": {"type": "line", "strokeWidth": 3.2, "interpolate": "catmull-rom"}, "encoding": {"color": {"field": "m", "type": "nominal", "legend": null}, "detail": {"field": "c"}, "order": {"value": null}}},
{"data": {"name": "curvesB"}, "transform": [{"filter": "datum.m === 'R'"}], "mark": {"type": "point", "shape": "circle", "filled": true, "size": 24, "opacity": 1}, "encoding": {"color": {"field": "m", "type": "nominal", "legend": null}}},
{"data": {"name": "frame"}, "mark": {"type": "rule", "color": "#111111", "strokeWidth": 1.7}, "encoding": {"x2": {"field": "x2"}, "y2": {"field": "y2"}}},
{"data": {"name": "ticks"}, "mark": {"type": "rule", "color": "#111111", "strokeWidth": 1.3}, "encoding": {"x2": {"field": "x2"}, "y2": {"field": "y2"}}},
{"data": {"name": "labels"}, "transform": [{"filter": "datum.a === 'b'"}], "mark": {"type": "text", "fontSize": 16, "color": "#1a1a1a", "align": "center", "baseline": "middle", "dx": -5, "dy": 18}, "encoding": {"text": {"field": "t"}}},
{"data": {"name": "labels"}, "transform": [{"filter": "datum.a === 'l'"}], "mark": {"type": "text", "fontSize": 16, "color": "#1a1a1a", "align": "right", "baseline": "middle", "dx": -4, "dy": -8}, "encoding": {"text": {"field": "t"}}},
{"data": {"name": "labels"}, "transform": [{"filter": "datum.a === 'r'"}], "mark": {"type": "text", "fontSize": 16, "color": "#1a1a1a", "align": "left", "baseline": "middle", "dx": 11, "dy": 2}, "encoding": {"text": {"field": "t"}}},
{"data": {"name": "textsB"}, "transform": [{"filter": "datum.k === 'title'"}], "mark": {"type": "text", "fontSize": 20, "color": "#1a1a1a", "align": "center", "baseline": "middle", "clip": true}, "encoding": {"text": {"field": "t"}}},
{"data": {"name": "textsB"}, "transform": [{"filter": "datum.k === 'panel'"}], "mark": {"type": "text", "font": "Liberation Serif", "fontSize": 27, "color": "#1a1a1a", "align": "center", "baseline": "middle"}, "encoding": {"text": {"field": "t"}}},
{"data": {"name": "textsB"}, "transform": [{"filter": "datum.k === 'note'"}], "mark": {"type": "text", "fontSize": 13, "color": "#1a1a1a", "align": "center", "baseline": "middle"}, "encoding": {"text": {"field": "t"}}},
{"data": {"name": "arrowsB"}, "mark": {"type": "rule", "color": "#111111", "strokeWidth": 1.3}, "encoding": {"x2": {"field": "x2"}, "y2": {"field": "y2"}}},
{"data": {"name": "headsB"}, "mark": {"type": "point", "shape": "triangle-left", "filled": true, "size": 50, "color": "#111111", "opacity": 1}}
]
}
]
}
